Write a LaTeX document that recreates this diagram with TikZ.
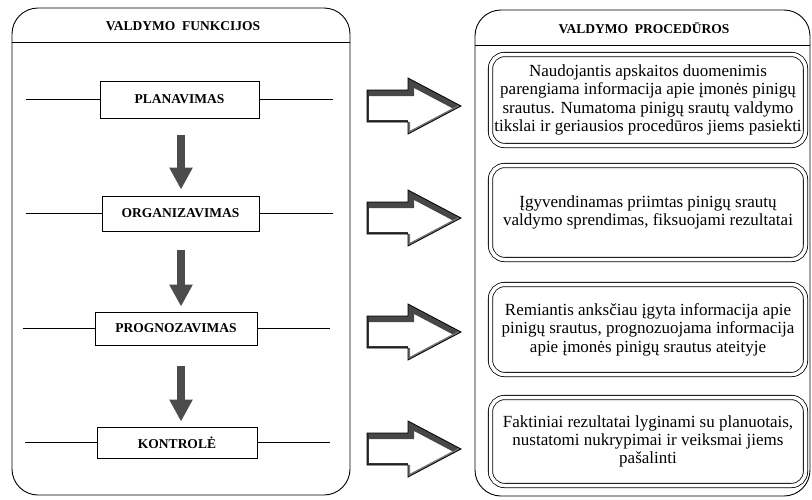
\documentclass[tikz,border=0pt]{standalone}
\usepackage{fontspec}
\setmainfont{Liberation Serif}
\usetikzlibrary{arrows.meta,calc}
\begin{document}
\begin{tikzpicture}[x=1pt,y=-1pt,
  panel/.style={draw, line width=0.9pt, rounded corners=26pt},
  fnbox/.style={draw, line width=0.9pt, font=\bfseries\fontsize{13.5}{16}\selectfont, inner sep=0pt},
  prbox/.style={draw, double, double distance=3.5pt, line width=0.8pt, rounded corners=14pt, minimum width=315pt, align=center, font=\fontsize{17}{18.4}\selectfont, inner sep=0pt},
  hline/.style={line width=0.9pt},
  downarr/.style={line width=8pt, black!70, -{Triangle[length=22pt,width=22pt]}},
  ptitle/.style={font=\bfseries\fontsize{13.5}{16}\selectfont}
]
\useasboundingbox (0,0) rectangle (812,499);

% left panel
\draw[panel] (12,8) rectangle (350,495);
\draw[hline] (12,42) -- (350,42);
\node[ptitle] (lt) at (183,26) {VALDYMO\hspace{0.5em}FUNKCIJOS};

% right panel
\draw[panel] (475,10) rectangle (810,496);
\draw[hline] (475,45) -- (810,45);
\node[ptitle] (rt) at (644,28) {VALDYMO\hspace{0.5em}PROCEDŪROS};

% function boxes
\node[fnbox, minimum width=159pt, minimum height=37pt] (pl) at (179.5,99.5) {PLANAVIMAS};
\node[fnbox, minimum width=157pt, minimum height=35pt] (or) at (180.5,213.5) {ORGANIZAVIMAS};
\node[fnbox, minimum width=162pt, minimum height=33pt] (pr) at (176,328.5) {PROGNOZAVIMAS};
\node[fnbox, minimum width=160pt, minimum height=31pt] (ko) at (177,442.5) {KONTROLĖ};

\coordinate (plL) at (26,99.5);  \coordinate (plR) at (333,99.5);
\coordinate (orL) at (26,213.5); \coordinate (orR) at (333,213.5);
\coordinate (prL) at (23,328.5); \coordinate (prR) at (330,328.5);
\coordinate (koL) at (25,442.5); \coordinate (koR) at (330,442.5);
\draw[hline] (plL) -- (pl.west); \draw[hline] (pl.east) -- (plR);
\draw[hline] (orL) -- (or.west); \draw[hline] (or.east) -- (orR);
\draw[hline] (prL) -- (pr.west); \draw[hline] (pr.east) -- (prR);
\draw[hline] (koL) -- (ko.west); \draw[hline] (ko.east) -- (koR);

% down arrows
\draw[downarr] ($(pl.south)+(1.5,17)$) -- ($(or.north)+(0.5,-6)$);
\draw[downarr] ($(or.south)+(0.5,19)$) -- ($(pr.north)+(5,-5)$);
\draw[downarr] ($(pr.south)+(5,21)$) -- ($(ko.north)+(4,-5)$);

% big arrows
\foreach \c in {106,218,332,449}{
  \begin{scope}
    \clip (367,\c-16) -- (408,\c-16) -- (408,\c-28) -- (461,\c) -- (408,\c+28) -- (408,\c+16) -- (367,\c+16) -- cycle;
    \draw[line width=12pt, black!72] (360,\c-16) -- (408,\c-16) -- (408,\c-28) -- (461,\c);
    \draw[line width=4pt, black!80] (367,\c-16) -- (367,\c+16) -- (408,\c+16);
    \draw[line width=4pt, black!55] (408,\c+16) -- (408,\c+28) -- (461,\c);
  \end{scope}
  \draw[line width=0.8pt] (367,\c-16) -- (408,\c-16) -- (408,\c-28) -- (461,\c) -- (408,\c+28) -- (408,\c+16) -- (367,\c+16) -- cycle;
}

% procedure boxes
\node[prbox, minimum height=91pt] (p1) at (648,100) {Naudojantis apskaitos duomenimis\\parengiama informacija apie įmonės pinigų\\srautus. Numatoma pinigų srautų valdymo\\tikslai ir geriausios procedūros jiems pasiekti};
\node[prbox, minimum height=94pt] (p2) at (648,212.5) {Įgyvendinamas priimtas pinigų srautų\\valdymo sprendimas, fiksuojami rezultatai};
\node[prbox, minimum height=90pt] (p3) at (648,329.5) {Remiantis anksčiau įgyta informacija apie\\pinigų srautus, prognozuojama informacija\\apie įmonės pinigų srautus ateityje};
\node[prbox, minimum height=88pt] (p4) at (648,441.5) {Faktiniai rezultatai lyginami su planuotais,\\nustatomi nukrypimai ir veiksmai jiems\\pašalinti};
\end{tikzpicture}
\end{document}
